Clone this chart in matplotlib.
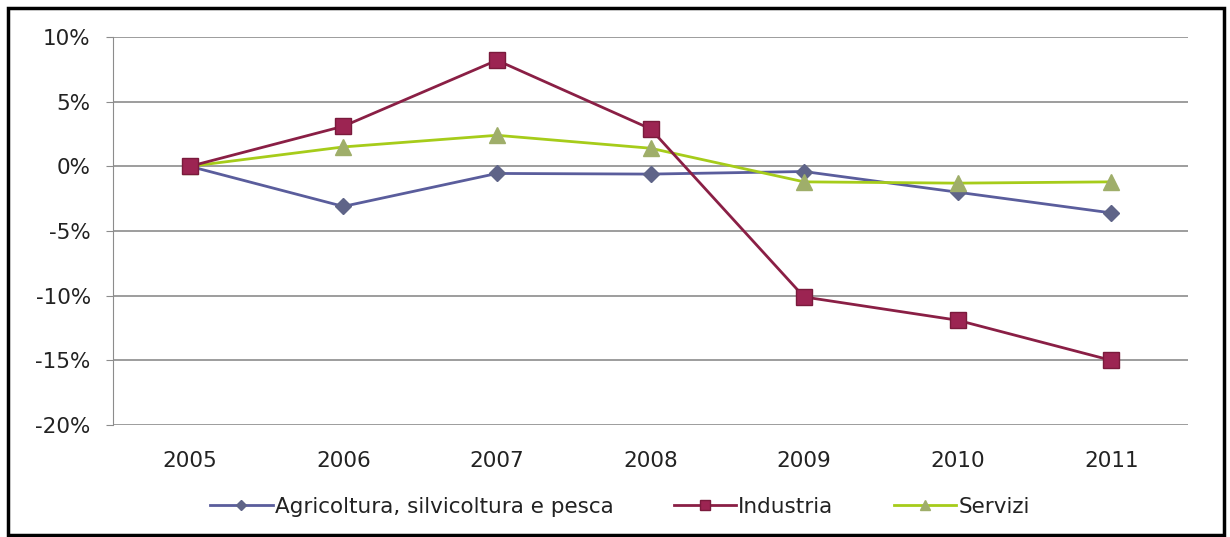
import numpy as np
import matplotlib.pyplot as plt
from matplotlib.patches import Rectangle

anni = ['2005', '2006', '2007', '2008', '2009', '2010', '2011']
agricoltura = [0.0, -3.1, -0.55, -0.6, -0.4, -2.0, -3.6]
industria = [0.0, 3.1, 8.2, 2.9, -10.1, -11.9, -15.0]
servizi = [0.0, 1.5, 2.4, 1.4, -1.2, -1.3, -1.2]
yticks = [10, 5, 0, -5, -10, -15, -20]

plt.rcParams['font.family'] = ['DejaVu Sans']
plt.rcParams['axes.unicode_minus'] = False

fig = plt.figure(figsize=(12.30, 5.37), dpi=100)
ax = fig.add_axes([113/1230, 1 - 425/537, (1188-113)/1230, (425-37)/537])

x = np.arange(len(anni))
ax.plot(x, agricoltura, color='#5a5d9c', lw=2, marker='D', ms=8,
        mfc='#5f6488', mec='#5f6488', label='Agricoltura, silvicoltura e pesca', zorder=3)
ax.plot(x, industria, color='#8a1f45', lw=2, marker='s', ms=12,
        mfc='#9c2452', mec='#7a1a3c', label='Industria', zorder=4)
ax.plot(x, servizi, color='#a6cc1a', lw=2, marker='^', ms=12,
        mfc='#9fae6a', mec='#9fae6a', label='Servizi', zorder=3)

ax.set_xlim(-0.5, len(anni) - 0.5)
ax.set_ylim(-20, 10)
ax.set_xticks(x)
ax.set_xticklabels(anni)
ax.set_yticks(yticks)
ax.set_yticklabels([f'{v}%' for v in yticks])
ax.yaxis.grid(True, color='#8c8c8c', lw=1.2)
ax.set_axisbelow(True)
for s in ['top', 'right', 'bottom']:
    ax.spines[s].set_visible(False)
ax.spines['left'].set_color('#8c8c8c')
ax.tick_params(axis='x', length=0, pad=19, labelsize=15.5, labelcolor='#222222')
ax.tick_params(axis='y', length=5, color='#8c8c8c', labelsize=15.5, pad=11,
               labelcolor='#222222')

fig.legend(loc='center', bbox_to_anchor=(620/1230, 1 - 507/537), ncol=3,
           frameon=False, fontsize=15.5, handlelength=2.9, columnspacing=2.8,
           handletextpad=0.1, markerscale=0.6, labelcolor='#222222')

# cornice esterna
fig.patches.append(Rectangle((8/1230, 2/537), 1216/1230, 527/537, transform=fig.transFigure,
                             fill=False, ec='black', lw=2.5))

fig.savefig('out.png', dpi=100)
